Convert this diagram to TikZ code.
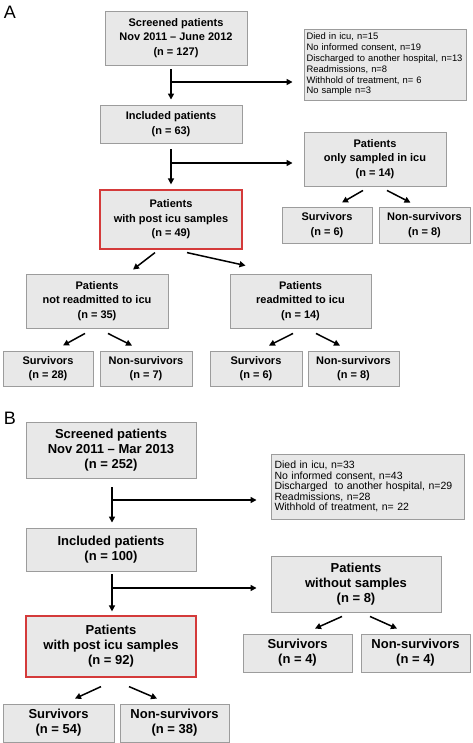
\documentclass[tikz,border=0pt]{standalone}
\usepackage{fontspec}
\setmainfont{Liberation Sans}
\usetikzlibrary{arrows.meta,calc}
\definecolor{boxfill}{HTML}{E8E8E8}
\definecolor{boxline}{HTML}{9C9C9C}
\definecolor{redline}{HTML}{D43A3A}
\tikzset{
  box/.style={draw=boxline, line width=0.9pt, fill=boxfill, align=center, inner sep=1pt, font=\bfseries},
  boxa/.style={box, font=\bfseries\fontsize{11}{14.5}\selectfont},
  boxb/.style={box, font=\bfseries\fontsize{13}{15}\selectfont},
  exa/.style={box, align=left, text width=157pt, inner sep=2pt, font=\fontsize{9.4}{10.8}\selectfont},
  exb/.style={box, align=left, text width=186pt, inner sep=2pt, font=\fontsize{10.5}{10.5}\selectfont},
  redbox/.style={draw=redline, line width=1.2pt},
  arr/.style={line width=1.5pt, -{Triangle[length=6pt,width=6pt]}},
  lab/.style={font=\fontsize{18}{18}\selectfont, inner sep=0pt}
}
\begin{document}
\begin{tikzpicture}[x=1pt,y=-1pt]
\useasboundingbox (0,0) rectangle (472,743);
% ---------- A ----------
\node[lab] (labA) at (10,12) {A};
\node[boxa, minimum width=142pt, minimum height=54pt] (scrA) at (176,38) {Screened patients\\Nov 2011 -- June 2012\\(n = 127)};
\node[exa, minimum width=162pt, minimum height=71pt] (exA) at (385,64.5) {Died in icu, n=15\\No informed consent, n=19\\Discharged to another hospital, n=13\\Readmissions, n=8\\Withhold of treatment, n= 6\\No sample n=3};
\node[boxa, minimum width=142pt, minimum height=38pt] (incA) at (171,124) {Included patients\\(n = 63)};
\node[boxa, minimum width=142pt, minimum height=54pt] (onlyA) at (375,159) {Patients\\only sampled in icu\\(n = 14)};
\node[boxa, redbox, minimum width=142pt, minimum height=59pt] (redA) at (171,219.5) {Patients\\with post icu samples\\(n = 49)};
\node[boxa, minimum width=90pt, minimum height=36pt] (s6a) at (327,225) {Survivors\\(n = 6)};
\node[boxa, minimum width=91pt, minimum height=36pt] (n8a) at (424.5,225) {Non-survivors\\(n = 8)};
\node[boxa, minimum width=142pt, minimum height=54pt] (notA) at (97,301) {Patients\\not readmitted to icu\\(n = 35)};
\node[boxa, minimum width=141pt, minimum height=54pt] (readA) at (300.5,301) {Patients\\readmitted to icu\\(n = 14)};
\node[boxa, minimum width=90pt, minimum height=35pt] (s28) at (48,368.5) {Survivors\\(n = 28)};
\node[boxa, minimum width=92pt, minimum height=35pt] (n7) at (146,368.5) {Non-survivors\\(n = 7)};
\node[boxa, minimum width=92pt, minimum height=35pt] (s6b) at (256,368.5) {Survivors\\(n = 6)};
\node[boxa, minimum width=91pt, minimum height=35pt] (n8b) at (353.5,368.5) {Non-survivors\\(n = 8)};
% A connectors
\coordinate (brA1) at (171,82);
\coordinate (brA2) at (171,163);
\draw[arr] ($(scrA.south -| incA.north)+(0,4)$) -- ($(incA.north)+(0,-5)$);
\draw[arr] (brA1) -- ($(brA1 -| exA.west)+(-11,0)$);
\draw[arr] ($(incA.south)+(0,6)$) -- ($(redA.north)+(0,-5)$);
\draw[arr] (brA2) -- ($(brA2 -| onlyA.west)+(-11,0)$);
\draw[arr] ($(onlyA.south)+(-12,4)$) -- ($(s6a.north)+(15,-4)$);
\draw[arr] ($(onlyA.south)+(12,4)$) -- ($(n8a.north)+(-14,-4)$);
\draw[arr] ($(redA.south)+(-16,3)$) -- ($(notA.north)+(36,-4)$);
\draw[arr] ($(redA.south)+(16,3)$) -- ($(readA.north)+(-55,-8)$);
\draw[arr] ($(notA.south)+(-12,5)$) -- ($(s28.north)+(15,-5)$);
\draw[arr] ($(notA.south)+(11,5)$) -- ($(n7.north)+(-14,-5)$);
\draw[arr] ($(readA.south)+(-7.5,5)$) -- ($(s6b.north)+(13,-5)$);
\draw[arr] ($(readA.south)+(15.5,5)$) -- ($(n8b.north)+(-13.5,-5)$);
% ---------- B ----------
\node[lab] (labB) at (10,418) {B};
\node[boxb, minimum width=170pt, minimum height=56pt] (scrB) at (111,450) {Screened patients\\Nov 2011 -- Mar 2013\\(n = 252)};
\node[exb, minimum width=193pt, minimum height=65pt] (exB) at (367.5,486.5) {Died in icu, n=33\\No informed consent, n=43\\Discharged\ \ to another hospital, n=29\\Readmissions, n=28\\Withhold of treatment, n= 22};
\node[boxb, minimum width=170pt, minimum height=43pt] (incB) at (111,549.5) {Included patients\\(n = 100)};
\node[boxb, minimum width=170pt, minimum height=56pt] (woB) at (356,584) {Patients\\without samples\\(n = 8)};
\node[boxb, redbox, minimum width=170pt, minimum height=61pt] (redB) at (111,646.5) {Patients\\with post icu samples\\(n = 92)};
\node[boxb, minimum width=109pt, minimum height=38pt] (s4) at (297.5,653) {Survivors\\(n = 4)};
\node[boxb, minimum width=109pt, minimum height=38pt] (n4) at (415.5,653) {Non-survivors\\(n = 4)};
\node[boxb, minimum width=111pt, minimum height=38pt] (s54) at (58.5,723) {Survivors\\(n = 54)};
\node[boxb, minimum width=109pt, minimum height=38pt] (n38) at (174.5,723) {Non-survivors\\(n = 38)};
% B connectors
\coordinate (brB1) at (112,500);
\coordinate (brB2) at (112,588);
\draw[arr] ($(scrB.south)+(1,9)$) -- ($(incB.north)+(1,-5)$);
\draw[arr] (brB1) -- ($(brB1 -| exB.west)+(-14,0)$);
\draw[arr] ($(incB.south)+(1,3)$) -- ($(redB.north)+(1,-4)$);
\draw[arr] (brB2) -- ($(brB2 -| woB.west)+(-14,0)$);
\draw[arr] ($(woB.south)+(-14,4)$) -- ($(s4.north)+(17.5,-5)$);
\draw[arr] ($(woB.south)+(14,4)$) -- ($(n4.north)+(-18.5,-5)$);
\draw[arr] ($(redB.south)+(-10,9)$) -- ($(s54.north)+(16.5,-5)$);
\draw[arr] ($(redB.south)+(18,9)$) -- ($(n38.north)+(-17.5,-5)$);
\end{tikzpicture}
\end{document}
